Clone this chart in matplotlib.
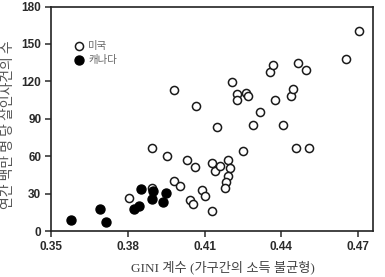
import matplotlib
matplotlib.use("Agg")
import matplotlib.pyplot as plt

# === Data ===
# US states (open circles)
us_gini = [0.3806, 0.3896, 0.3896, 0.3954, 0.3980, 0.3982, 0.4003, 0.4032,
           0.4045, 0.4055, 0.4063, 0.4068, 0.4090, 0.4103, 0.4130, 0.4130,
           0.4141, 0.4162, 0.4150, 0.4190, 0.4199, 0.4190, 0.4184, 0.4180,
           0.4207, 0.4228, 0.4228, 0.4261, 0.4271, 0.4250, 0.4290, 0.4318,
           0.4355, 0.4367, 0.4376, 0.4407, 0.4436, 0.4447, 0.4456, 0.4465,
           0.4496, 0.4509, 0.4654, 0.4704]
us_homicide = [26.5, 34.8, 66.5, 60.3, 112.8, 40.0, 36.2, 57.1,
               24.5, 22.0, 51.2, 100.5, 32.5, 28.3, 16.3, 54.9,
               48.5, 52.5, 83.0, 57.1, 50.4, 44.2, 39.6, 34.8,
               119.2, 109.5, 104.7, 110.7, 108.0, 64.0, 85.0, 95.1,
               127.3, 132.8, 105.3, 84.6, 108.5, 113.9, 66.5, 135.0,
               129.2, 66.5, 138.0, 160.0]

# Canadian provinces (filled circles)
ca_gini = [0.3577, 0.3690, 0.3715, 0.3824, 0.3845, 0.3850, 0.3900, 0.3896,
           0.3949, 0.3936]
ca_homicide = [9.0, 18.0, 7.5, 17.4, 20.1, 33.5, 32.4, 25.5, 30.3, 23.6]

x_ticks = [0.35, 0.38, 0.41, 0.44, 0.47]
y_ticks = [0, 30, 60, 90, 120, 150, 180]

kr = ['Noto Sans CJK KR', 'DejaVu Sans']
kr_serif = ['Liberation Serif', 'Noto Sans CJK KR']

fig = plt.figure(figsize=(3.85, 2.77), dpi=100)
ax = fig.add_axes([0.1325, 0.166, 0.8355, 0.8105])

ax.scatter(us_gini, us_homicide, s=34, facecolors='white', edgecolors='#1a1a1a',
           linewidths=1.1, zorder=3)
ax.scatter(ca_gini, ca_homicide, s=42, facecolors='black', edgecolors='black',
           linewidths=1.0, zorder=4)

ax.set_xlim(0.35, 0.4757)
ax.set_ylim(0, 180)
ax.set_xticks(x_ticks)
ax.set_xticklabels([f"{v:.2f}" for v in x_ticks])
ax.set_yticks(y_ticks)

for s in ax.spines.values():
    s.set_linewidth(1.2)
    s.set_color('#222222')
ax.tick_params(direction='out', length=4, width=1.1, labelsize=8.5,
               colors='#2a2a2a', pad=3)
for lbl in ax.get_xticklabels() + ax.get_yticklabels():
    lbl.set_fontfamily('Liberation Sans')
    lbl.set_fontweight('bold')

# legend, drawn by hand in axes coordinates
ax.scatter([0.0875], [0.823], s=34, facecolors='white', edgecolors='#1a1a1a',
           linewidths=1.1, transform=ax.transAxes, clip_on=False)
ax.scatter([0.0875], [0.761], s=42, facecolors='black', edgecolors='black',
           transform=ax.transAxes, clip_on=False)
ax.text(0.115, 0.823, "미국", transform=ax.transAxes, va='center', ha='left',
        fontsize=7.5, color='#666666', family=kr)
ax.text(0.115, 0.761, "캐나다", transform=ax.transAxes, va='center', ha='left',
        fontsize=7.5, color='#666666', family=kr)

fig.text(0.022, 0.549, "연간 백만 명 당 살인사건의 수", rotation=90, va='center',
         ha='center', fontsize=10, color='#555555', family=kr)
fig.text(0.58, 0.036, "GINI 계수 (가구간의 소득 불균형)", va='center', ha='center',
         fontsize=9.5, color='#444444', family=kr_serif)

fig.savefig("out.png", dpi=100)
